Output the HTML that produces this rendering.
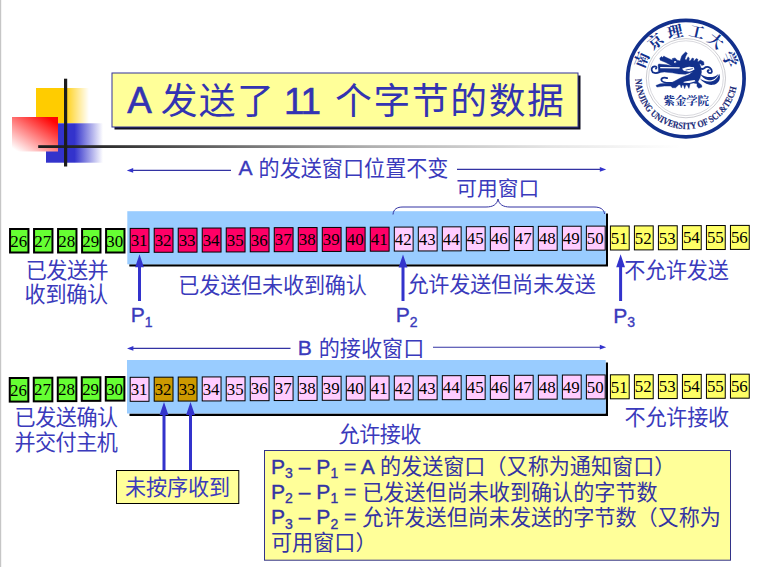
<!DOCTYPE html>
<html lang="zh"><head><meta charset="utf-8"><title>TCP sliding window</title>
<style>html,body{margin:0;padding:0;background:#fff}body{width:761px;height:567px;overflow:hidden;font-family:"Liberation Sans",sans-serif}</style>
</head><body>
<svg width="761" height="567" viewBox="0 0 761 567" style="display:block">
<defs>
<linearGradient id="gy" x1="0" x2="1" y1="0" y2="0"><stop offset="0" stop-color="#FFCC00"/><stop offset="0.52" stop-color="#FFCC00"/><stop offset="1" stop-color="#FFCC00" stop-opacity="0"/></linearGradient>
<linearGradient id="gb" x1="0" x2="1" y1="0" y2="0"><stop offset="0" stop-color="#3333CC"/><stop offset="0.5" stop-color="#3333CC"/><stop offset="1" stop-color="#3333CC" stop-opacity="0"/></linearGradient>
<linearGradient id="gr" x1="1" x2="0.12" y1="0" y2="1"><stop offset="0" stop-color="#FF0000"/><stop offset="0.12" stop-color="#FF0505"/><stop offset="1" stop-color="#FFFFFF"/></linearGradient>
<linearGradient id="gl" x1="0" x2="1" y1="0" y2="0"><stop offset="0" stop-color="#1c1c1c"/><stop offset="0.1" stop-color="#2c2c2c"/><stop offset="0.31" stop-color="#707070"/><stop offset="0.52" stop-color="#b0b0b0"/><stop offset="0.8" stop-color="#e6e6e6"/><stop offset="1" stop-color="#ffffff"/></linearGradient>
</defs>
<rect x="0" y="0" width="1" height="567" fill="#c6c6c6"/><rect x="1" y="0" width="1" height="567" fill="#f4f4f4"/>
<rect x="36" y="88" width="53" height="35.3" fill="url(#gy)"/>
<rect x="46" y="123.3" width="57" height="39.4" fill="url(#gb)"/>
<rect x="12" y="117" width="46" height="34.5" fill="url(#gr)"/>
<rect x="38.2" y="145.2" width="642" height="2.8" fill="url(#gl)"/>
<rect x="64" y="78.7" width="3.2" height="87.8" fill="#1c1c1c"/>
<rect x="114.5" y="75.5" width="466" height="54" fill="#111122"/>
<rect x="112" y="73" width="466" height="54" fill="#FFFF99" stroke="#333399" stroke-width="1"/>
<text x="127.3" y="113.4" font-family="Liberation Sans" font-size="36.8" fill="#3333B2" stroke="#3333B2" stroke-width="0.6">A</text>
<text x="160.7" y="114.2" font-family="'Liberation Sans','Noto Sans CJK SC',sans-serif" font-size="36.8" textLength="113.1" fill="#3333B2">发送了</text>
<text x="284" y="113.6" font-family="'Liberation Sans',sans-serif" font-size="36.8" textLength="37" fill="#3333B2" stroke="#3333B2" stroke-width="0.6">11</text>
<text x="335" y="114.2" font-family="'Liberation Sans','Noto Sans CJK SC',sans-serif" font-size="36.8" textLength="228.9" fill="#3333B2">个字节的数据</text>
<path d="M129.3 264.3H605.8V213.4H608V266.6H129.3Z" fill="#000"/>
<rect x="127.3" y="211.2" width="478.5" height="53.1" fill="#99CCFF"/>
<rect x="10.05" y="229" width="18.4" height="23.5" fill="#66FF33" stroke="#000" stroke-width="2"/>
<text x="18.75" y="246.5" font-family="Liberation Serif" font-size="16.9" fill="#000" text-anchor="middle">26</text>
<rect x="34.06" y="229" width="18.4" height="23.5" fill="#66FF33" stroke="#000" stroke-width="2"/>
<text x="42.76" y="246.5" font-family="Liberation Serif" font-size="16.9" fill="#000" text-anchor="middle">27</text>
<rect x="58.07" y="229" width="18.4" height="23.5" fill="#66FF33" stroke="#000" stroke-width="2"/>
<text x="66.77" y="246.5" font-family="Liberation Serif" font-size="16.9" fill="#000" text-anchor="middle">28</text>
<rect x="82.08" y="229" width="18.4" height="23.5" fill="#66FF33" stroke="#000" stroke-width="2"/>
<text x="90.78" y="246.5" font-family="Liberation Serif" font-size="16.9" fill="#000" text-anchor="middle">29</text>
<rect x="106.09" y="229" width="18.4" height="23.5" fill="#66FF33" stroke="#000" stroke-width="2"/>
<text x="114.79" y="246.5" font-family="Liberation Serif" font-size="16.9" fill="#000" text-anchor="middle">30</text>
<rect x="130.2" y="228.4" width="18.8" height="24" fill="#FF0066" stroke="#000" stroke-width="1.0"/>
<text x="139.1" y="246.15" font-family="Liberation Serif" font-size="16.9" fill="#000" text-anchor="middle">31</text>
<rect x="154.21" y="228.28" width="18.8" height="24" fill="#FF0066" stroke="#000" stroke-width="1.0"/>
<text x="163.11" y="246.03" font-family="Liberation Serif" font-size="16.9" fill="#000" text-anchor="middle">32</text>
<rect x="178.22" y="228.16" width="18.8" height="24" fill="#FF0066" stroke="#000" stroke-width="1.0"/>
<text x="187.12" y="245.91" font-family="Liberation Serif" font-size="16.9" fill="#000" text-anchor="middle">33</text>
<rect x="202.23" y="228.04" width="18.8" height="24" fill="#FF0066" stroke="#000" stroke-width="1.0"/>
<text x="211.13" y="245.79" font-family="Liberation Serif" font-size="16.9" fill="#000" text-anchor="middle">34</text>
<rect x="226.24" y="227.92" width="18.8" height="24" fill="#FF0066" stroke="#000" stroke-width="1.0"/>
<text x="235.14" y="245.67" font-family="Liberation Serif" font-size="16.9" fill="#000" text-anchor="middle">35</text>
<rect x="250.25" y="227.8" width="18.8" height="24" fill="#FF0066" stroke="#000" stroke-width="1.0"/>
<text x="259.15" y="245.55" font-family="Liberation Serif" font-size="16.9" fill="#000" text-anchor="middle">36</text>
<rect x="274.26" y="227.68" width="18.8" height="24" fill="#FF0066" stroke="#000" stroke-width="1.0"/>
<text x="283.16" y="245.43" font-family="Liberation Serif" font-size="16.9" fill="#000" text-anchor="middle">37</text>
<rect x="298.27" y="227.56" width="18.8" height="24" fill="#FF0066" stroke="#000" stroke-width="1.0"/>
<text x="307.17" y="245.31" font-family="Liberation Serif" font-size="16.9" fill="#000" text-anchor="middle">38</text>
<rect x="322.28" y="227.44" width="18.8" height="24" fill="#FF0066" stroke="#000" stroke-width="1.0"/>
<text x="331.18" y="245.19" font-family="Liberation Serif" font-size="16.9" fill="#000" text-anchor="middle">39</text>
<rect x="346.29" y="227.32" width="18.8" height="24" fill="#FF0066" stroke="#000" stroke-width="1.0"/>
<text x="355.19" y="245.07" font-family="Liberation Serif" font-size="16.9" fill="#000" text-anchor="middle">40</text>
<rect x="370.3" y="227.2" width="18.8" height="24" fill="#FF0066" stroke="#000" stroke-width="1.0"/>
<text x="379.2" y="244.95" font-family="Liberation Serif" font-size="16.9" fill="#000" text-anchor="middle">41</text>
<rect x="394.31" y="227.08" width="18.8" height="24" fill="#FFCCFF" stroke="#000" stroke-width="1.0"/>
<text x="403.21" y="244.83" font-family="Liberation Serif" font-size="16.9" fill="#000" text-anchor="middle">42</text>
<rect x="418.32" y="226.96" width="18.8" height="24" fill="#FFCCFF" stroke="#000" stroke-width="1.0"/>
<text x="427.22" y="244.71" font-family="Liberation Serif" font-size="16.9" fill="#000" text-anchor="middle">43</text>
<rect x="442.33" y="226.84" width="18.8" height="24" fill="#FFCCFF" stroke="#000" stroke-width="1.0"/>
<text x="451.23" y="244.59" font-family="Liberation Serif" font-size="16.9" fill="#000" text-anchor="middle">44</text>
<rect x="466.34" y="226.72" width="18.8" height="24" fill="#FFCCFF" stroke="#000" stroke-width="1.0"/>
<text x="475.24" y="244.47" font-family="Liberation Serif" font-size="16.9" fill="#000" text-anchor="middle">45</text>
<rect x="490.35" y="226.6" width="18.8" height="24" fill="#FFCCFF" stroke="#000" stroke-width="1.0"/>
<text x="499.25" y="244.35" font-family="Liberation Serif" font-size="16.9" fill="#000" text-anchor="middle">46</text>
<rect x="514.36" y="226.48" width="18.8" height="24" fill="#FFCCFF" stroke="#000" stroke-width="1.0"/>
<text x="523.26" y="244.23" font-family="Liberation Serif" font-size="16.9" fill="#000" text-anchor="middle">47</text>
<rect x="538.37" y="226.36" width="18.8" height="24" fill="#FFCCFF" stroke="#000" stroke-width="1.0"/>
<text x="547.27" y="244.11" font-family="Liberation Serif" font-size="16.9" fill="#000" text-anchor="middle">48</text>
<rect x="562.38" y="226.24" width="18.8" height="24" fill="#FFCCFF" stroke="#000" stroke-width="1.0"/>
<text x="571.28" y="243.99" font-family="Liberation Serif" font-size="16.9" fill="#000" text-anchor="middle">49</text>
<rect x="586.39" y="226.12" width="18.8" height="24" fill="#FFCCFF" stroke="#000" stroke-width="1.0"/>
<text x="595.29" y="243.87" font-family="Liberation Serif" font-size="16.9" fill="#000" text-anchor="middle">50</text>
<rect x="610.4" y="226" width="18.8" height="24" fill="#FFFF66" stroke="#000" stroke-width="1.0"/>
<text x="619.3" y="243.75" font-family="Liberation Serif" font-size="16.9" fill="#000" text-anchor="middle">51</text>
<rect x="634.41" y="225.88" width="18.8" height="24" fill="#FFFF66" stroke="#000" stroke-width="1.0"/>
<text x="643.31" y="243.63" font-family="Liberation Serif" font-size="16.9" fill="#000" text-anchor="middle">52</text>
<rect x="658.42" y="225.76" width="18.8" height="24" fill="#FFFF66" stroke="#000" stroke-width="1.0"/>
<text x="667.32" y="243.51" font-family="Liberation Serif" font-size="16.9" fill="#000" text-anchor="middle">53</text>
<rect x="682.43" y="225.64" width="18.8" height="24" fill="#FFFF66" stroke="#000" stroke-width="1.0"/>
<text x="691.33" y="243.39" font-family="Liberation Serif" font-size="16.9" fill="#000" text-anchor="middle">54</text>
<rect x="706.44" y="225.52" width="18.8" height="24" fill="#FFFF66" stroke="#000" stroke-width="1.0"/>
<text x="715.34" y="243.27" font-family="Liberation Serif" font-size="16.9" fill="#000" text-anchor="middle">55</text>
<rect x="730.45" y="225.4" width="18.8" height="24" fill="#FFFF66" stroke="#000" stroke-width="1.0"/>
<text x="739.35" y="243.15" font-family="Liberation Serif" font-size="16.9" fill="#000" text-anchor="middle">56</text>
<path d="M129.5 413.5H605.7V362.6H608V416H129.5Z" fill="#000"/>
<rect x="127" y="360" width="478.7" height="53.5" fill="#99CCFF"/>
<rect x="9.75" y="378" width="18.6" height="23.6" fill="#66FF33" stroke="#000" stroke-width="2"/>
<text x="18.55" y="395.55" font-family="Liberation Serif" font-size="16.9" fill="#000" text-anchor="middle">26</text>
<rect x="33.76" y="377.75" width="18.6" height="23.6" fill="#66FF33" stroke="#000" stroke-width="2"/>
<text x="42.56" y="395.3" font-family="Liberation Serif" font-size="16.9" fill="#000" text-anchor="middle">27</text>
<rect x="57.77" y="377.5" width="18.6" height="23.6" fill="#66FF33" stroke="#000" stroke-width="2"/>
<text x="66.57" y="395.05" font-family="Liberation Serif" font-size="16.9" fill="#000" text-anchor="middle">28</text>
<rect x="81.78" y="377.25" width="18.6" height="23.6" fill="#66FF33" stroke="#000" stroke-width="2"/>
<text x="90.58" y="394.8" font-family="Liberation Serif" font-size="16.9" fill="#000" text-anchor="middle">29</text>
<rect x="105.79" y="377" width="18.6" height="23.6" fill="#66FF33" stroke="#000" stroke-width="2"/>
<text x="114.59" y="394.55" font-family="Liberation Serif" font-size="16.9" fill="#000" text-anchor="middle">30</text>
<rect x="130.2" y="377.3" width="18.8" height="24" fill="#FFCCFF" stroke="#000" stroke-width="1.0"/>
<text x="139.1" y="395.05" font-family="Liberation Serif" font-size="16.9" fill="#000" text-anchor="middle">31</text>
<rect x="154.21" y="377.18" width="18.8" height="24" fill="#CC9900" stroke="#000" stroke-width="1.0"/>
<text x="163.11" y="394.93" font-family="Liberation Serif" font-size="16.9" fill="#000" text-anchor="middle">32</text>
<rect x="178.22" y="377.05" width="18.8" height="24" fill="#CC9900" stroke="#000" stroke-width="1.0"/>
<text x="187.12" y="394.8" font-family="Liberation Serif" font-size="16.9" fill="#000" text-anchor="middle">33</text>
<rect x="202.23" y="376.93" width="18.8" height="24" fill="#FFCCFF" stroke="#000" stroke-width="1.0"/>
<text x="211.13" y="394.68" font-family="Liberation Serif" font-size="16.9" fill="#000" text-anchor="middle">34</text>
<rect x="226.24" y="376.8" width="18.8" height="24" fill="#FFCCFF" stroke="#000" stroke-width="1.0"/>
<text x="235.14" y="394.55" font-family="Liberation Serif" font-size="16.9" fill="#000" text-anchor="middle">35</text>
<rect x="250.25" y="376.68" width="18.8" height="24" fill="#FFCCFF" stroke="#000" stroke-width="1.0"/>
<text x="259.15" y="394.43" font-family="Liberation Serif" font-size="16.9" fill="#000" text-anchor="middle">36</text>
<rect x="274.26" y="376.55" width="18.8" height="24" fill="#FFCCFF" stroke="#000" stroke-width="1.0"/>
<text x="283.16" y="394.3" font-family="Liberation Serif" font-size="16.9" fill="#000" text-anchor="middle">37</text>
<rect x="298.27" y="376.43" width="18.8" height="24" fill="#FFCCFF" stroke="#000" stroke-width="1.0"/>
<text x="307.17" y="394.18" font-family="Liberation Serif" font-size="16.9" fill="#000" text-anchor="middle">38</text>
<rect x="322.28" y="376.3" width="18.8" height="24" fill="#FFCCFF" stroke="#000" stroke-width="1.0"/>
<text x="331.18" y="394.05" font-family="Liberation Serif" font-size="16.9" fill="#000" text-anchor="middle">39</text>
<rect x="346.29" y="376.18" width="18.8" height="24" fill="#FFCCFF" stroke="#000" stroke-width="1.0"/>
<text x="355.19" y="393.93" font-family="Liberation Serif" font-size="16.9" fill="#000" text-anchor="middle">40</text>
<rect x="370.3" y="376.05" width="18.8" height="24" fill="#FFCCFF" stroke="#000" stroke-width="1.0"/>
<text x="379.2" y="393.8" font-family="Liberation Serif" font-size="16.9" fill="#000" text-anchor="middle">41</text>
<rect x="394.31" y="375.93" width="18.8" height="24" fill="#FFCCFF" stroke="#000" stroke-width="1.0"/>
<text x="403.21" y="393.68" font-family="Liberation Serif" font-size="16.9" fill="#000" text-anchor="middle">42</text>
<rect x="418.32" y="375.8" width="18.8" height="24" fill="#FFCCFF" stroke="#000" stroke-width="1.0"/>
<text x="427.22" y="393.55" font-family="Liberation Serif" font-size="16.9" fill="#000" text-anchor="middle">43</text>
<rect x="442.33" y="375.68" width="18.8" height="24" fill="#FFCCFF" stroke="#000" stroke-width="1.0"/>
<text x="451.23" y="393.43" font-family="Liberation Serif" font-size="16.9" fill="#000" text-anchor="middle">44</text>
<rect x="466.34" y="375.55" width="18.8" height="24" fill="#FFCCFF" stroke="#000" stroke-width="1.0"/>
<text x="475.24" y="393.3" font-family="Liberation Serif" font-size="16.9" fill="#000" text-anchor="middle">45</text>
<rect x="490.35" y="375.43" width="18.8" height="24" fill="#FFCCFF" stroke="#000" stroke-width="1.0"/>
<text x="499.25" y="393.18" font-family="Liberation Serif" font-size="16.9" fill="#000" text-anchor="middle">46</text>
<rect x="514.36" y="375.3" width="18.8" height="24" fill="#FFCCFF" stroke="#000" stroke-width="1.0"/>
<text x="523.26" y="393.05" font-family="Liberation Serif" font-size="16.9" fill="#000" text-anchor="middle">47</text>
<rect x="538.37" y="375.18" width="18.8" height="24" fill="#FFCCFF" stroke="#000" stroke-width="1.0"/>
<text x="547.27" y="392.93" font-family="Liberation Serif" font-size="16.9" fill="#000" text-anchor="middle">48</text>
<rect x="562.38" y="375.05" width="18.8" height="24" fill="#FFCCFF" stroke="#000" stroke-width="1.0"/>
<text x="571.28" y="392.8" font-family="Liberation Serif" font-size="16.9" fill="#000" text-anchor="middle">49</text>
<rect x="586.39" y="374.93" width="18.8" height="24" fill="#FFCCFF" stroke="#000" stroke-width="1.0"/>
<text x="595.29" y="392.68" font-family="Liberation Serif" font-size="16.9" fill="#000" text-anchor="middle">50</text>
<rect x="610.4" y="374.8" width="18.8" height="24" fill="#FFFF66" stroke="#000" stroke-width="1.0"/>
<text x="619.3" y="392.55" font-family="Liberation Serif" font-size="16.9" fill="#000" text-anchor="middle">51</text>
<rect x="634.41" y="374.68" width="18.8" height="24" fill="#FFFF66" stroke="#000" stroke-width="1.0"/>
<text x="643.31" y="392.43" font-family="Liberation Serif" font-size="16.9" fill="#000" text-anchor="middle">52</text>
<rect x="658.42" y="374.55" width="18.8" height="24" fill="#FFFF66" stroke="#000" stroke-width="1.0"/>
<text x="667.32" y="392.3" font-family="Liberation Serif" font-size="16.9" fill="#000" text-anchor="middle">53</text>
<rect x="682.43" y="374.43" width="18.8" height="24" fill="#FFFF66" stroke="#000" stroke-width="1.0"/>
<text x="691.33" y="392.18" font-family="Liberation Serif" font-size="16.9" fill="#000" text-anchor="middle">54</text>
<rect x="706.44" y="374.3" width="18.8" height="24" fill="#FFFF66" stroke="#000" stroke-width="1.0"/>
<text x="715.34" y="392.05" font-family="Liberation Serif" font-size="16.9" fill="#000" text-anchor="middle">55</text>
<rect x="730.45" y="374.18" width="18.8" height="24" fill="#FFFF66" stroke="#000" stroke-width="1.0"/>
<text x="739.35" y="391.93" font-family="Liberation Serif" font-size="16.9" fill="#000" text-anchor="middle">56</text>
<line x1="130.8" y1="170.4" x2="231" y2="170.4" stroke="#3333A3" stroke-width="1.1"/>
<path d="M126.8 170.4l6.4 -2.4v4.8z" fill="#3333CC"/>
<line x1="457" y1="169.4" x2="602.2" y2="169.4" stroke="#3333A3" stroke-width="1.1"/>
<path d="M606.2 169.4l-6.4 -2.4v4.8z" fill="#3333CC"/>
<line x1="131" y1="348.4" x2="290.5" y2="348.4" stroke="#3333A3" stroke-width="1.1"/>
<path d="M127 348.4l6.4 -2.4v4.8z" fill="#3333CC"/>
<line x1="433" y1="347.2" x2="602.2" y2="347.2" stroke="#3333A3" stroke-width="1.1"/>
<path d="M606.2 347.2l-6.4 -2.4v4.8z" fill="#3333CC"/>
<text x="238.6" y="175.4" font-family="Liberation Sans" font-size="21.1" fill="#3A3ABC" stroke="#3A3ABC" stroke-width="0.35">A</text>
<text x="258.54" y="175.6" font-family="'Liberation Sans','Noto Sans CJK SC',sans-serif" font-size="21.1" textLength="189.9" fill="#3A3ABC">的发送窗口位置不变</text>
<text x="456.3" y="196" font-family="'Liberation Sans','Noto Sans CJK SC',sans-serif" font-size="20.7" textLength="82.8" fill="#3A3ABC">可用窗口</text>
<path d="M393 214.5C393.5 209 397 207 403 207H486C493 207 497 204.5 498 199C499 204.5 503 207 510 207H594C600 207 604 209 604.6 214" fill="none" stroke="#3333A3" stroke-width="1"/>
<text x="297.8" y="354.8" font-family="Liberation Sans" font-size="21.1" fill="#3A3ABC" stroke="#3A3ABC" stroke-width="0.35">B</text>
<text x="318.74" y="356.4" font-family="'Liberation Sans','Noto Sans CJK SC',sans-serif" font-size="21.1" textLength="105.5" fill="#3A3ABC">的接收窗口</text>
<path d="M139.5 254.3L143.9 267.3H141V301H138V267.3H135.1Z" fill="#3333CC"/>
<path d="M403 254.5L407.4 267.5H404.5V301H401.5V267.5H398.6Z" fill="#3333CC"/>
<path d="M620.6 254.2L625 267.2H622.1V301H619.1V267.2H616.2Z" fill="#3333CC"/>
<path d="M164 402L168.4 415H165.5V471H162.5V415H159.6Z" fill="#3333CC"/>
<path d="M190.5 402L194.9 415H192V471H189V415H186.1Z" fill="#3333CC"/>
<text x="130.7" y="322.4" font-family="Liberation Sans" font-size="21.1" fill="#3A3ABC" stroke="#3A3ABC" stroke-width="0.35">P</text>
<text x="144.77" y="327" font-family="Liberation Sans" font-size="14" fill="#3A3ABC" stroke="#3A3ABC" stroke-width="0.35">1</text>
<text x="395.8" y="322.2" font-family="Liberation Sans" font-size="21.1" fill="#3A3ABC" stroke="#3A3ABC" stroke-width="0.35">P</text>
<text x="409.87" y="326.8" font-family="Liberation Sans" font-size="14" fill="#3A3ABC" stroke="#3A3ABC" stroke-width="0.35">2</text>
<text x="613.2" y="322.6" font-family="Liberation Sans" font-size="21.1" fill="#3A3ABC" stroke="#3A3ABC" stroke-width="0.35">P</text>
<text x="627.27" y="327.2" font-family="Liberation Sans" font-size="14" fill="#3A3ABC" stroke="#3A3ABC" stroke-width="0.35">3</text>
<text x="25.8" y="278" font-family="'Liberation Sans','Noto Sans CJK SC',sans-serif" font-size="21.1" textLength="82.8" fill="#3A3ABC">已发送并</text>
<text x="24.6" y="302.3" font-family="'Liberation Sans','Noto Sans CJK SC',sans-serif" font-size="21.1" textLength="83.6" fill="#3A3ABC">收到确认</text>
<text x="178.3" y="293.2" font-family="'Liberation Sans','Noto Sans CJK SC',sans-serif" font-size="21.1" textLength="188.55" fill="#3A3ABC">已发送但未收到确认</text>
<text x="407.4" y="291.7" font-family="'Liberation Sans','Noto Sans CJK SC',sans-serif" font-size="21.1" textLength="188.55" fill="#3A3ABC">允许发送但尚未发送</text>
<text x="624.3" y="277.9" font-family="'Liberation Sans','Noto Sans CJK SC',sans-serif" font-size="21.1" textLength="104.5" fill="#3A3ABC">不允许发送</text>
<text x="14.6" y="424.9" font-family="'Liberation Sans','Noto Sans CJK SC',sans-serif" font-size="21.1" textLength="103.5" fill="#3A3ABC">已发送确认</text>
<text x="14.4" y="449.6" font-family="'Liberation Sans','Noto Sans CJK SC',sans-serif" font-size="21.1" textLength="103.5" fill="#3A3ABC">并交付主机</text>
<text x="338.6" y="442" font-family="'Liberation Sans','Noto Sans CJK SC',sans-serif" font-size="21.1" textLength="82.8" fill="#3A3ABC">允许接收</text>
<text x="624.6" y="424.9" font-family="'Liberation Sans','Noto Sans CJK SC',sans-serif" font-size="21.1" textLength="104.5" fill="#3A3ABC">不允许接收</text>
<rect x="116.5" y="470.5" width="122.3" height="33" fill="#FFFF99" stroke="#000" stroke-width="1"/>
<text x="125" y="495.2" font-family="'Liberation Sans','Noto Sans CJK SC',sans-serif" font-size="21.1" textLength="105" fill="#3A3ABC">未按序收到</text>
<rect x="264.5" y="450.5" width="466" height="109.7" fill="#FFFF99" stroke="#333388" stroke-width="1"/>
<text x="271" y="473.6" font-family="Liberation Sans" font-size="21.1" fill="#3333A3" stroke="#3333A3" stroke-width="0.35">P</text>
<text x="285.07" y="478.2" font-family="Liberation Sans" font-size="14" fill="#3333A3" stroke="#3333A3" stroke-width="0.35">3</text>
<text x="298.72" y="473.6" font-family="Liberation Sans" font-size="21.1" fill="#3333A3" stroke="#3333A3" stroke-width="0.35">–</text>
<text x="316.32" y="473.6" font-family="Liberation Sans" font-size="21.1" fill="#3333A3" stroke="#3333A3" stroke-width="0.35">P</text>
<text x="330.39" y="478.2" font-family="Liberation Sans" font-size="14" fill="#3333A3" stroke="#3333A3" stroke-width="0.35">1</text>
<text x="344.04" y="473.6" font-family="Liberation Sans" font-size="21.1" fill="#3333A3" stroke="#3333A3" stroke-width="0.35">=</text>
<text x="360.63" y="473.6" font-family="Liberation Sans" font-size="21.1" fill="#3333A3" stroke="#3333A3" stroke-width="0.35">A</text>
<text x="379.96" y="474.4" font-family="'Liberation Sans','Noto Sans CJK SC',sans-serif" font-size="21.1" textLength="295.4" fill="#3333A3">的发送窗口（又称为通知窗口）</text>
<text x="271" y="498.8" font-family="Liberation Sans" font-size="21.1" fill="#3333A3" stroke="#3333A3" stroke-width="0.35">P</text>
<text x="285.07" y="503.4" font-family="Liberation Sans" font-size="14" fill="#3333A3" stroke="#3333A3" stroke-width="0.35">2</text>
<text x="298.72" y="498.8" font-family="Liberation Sans" font-size="21.1" fill="#3333A3" stroke="#3333A3" stroke-width="0.35">–</text>
<text x="316.32" y="498.8" font-family="Liberation Sans" font-size="21.1" fill="#3333A3" stroke="#3333A3" stroke-width="0.35">P</text>
<text x="330.39" y="503.4" font-family="Liberation Sans" font-size="14" fill="#3333A3" stroke="#3333A3" stroke-width="0.35">1</text>
<text x="344.04" y="498.8" font-family="Liberation Sans" font-size="21.1" fill="#3333A3" stroke="#3333A3" stroke-width="0.35">=</text>
<text x="362.23" y="499.6" font-family="'Liberation Sans','Noto Sans CJK SC',sans-serif" font-size="21.1" textLength="295.4" fill="#3333A3">已发送但尚未收到确认的字节数</text>
<text x="271" y="524" font-family="Liberation Sans" font-size="21.1" fill="#3333A3" stroke="#3333A3" stroke-width="0.35">P</text>
<text x="285.07" y="528.6" font-family="Liberation Sans" font-size="14" fill="#3333A3" stroke="#3333A3" stroke-width="0.35">3</text>
<text x="298.72" y="524" font-family="Liberation Sans" font-size="21.1" fill="#3333A3" stroke="#3333A3" stroke-width="0.35">–</text>
<text x="316.32" y="524" font-family="Liberation Sans" font-size="21.1" fill="#3333A3" stroke="#3333A3" stroke-width="0.35">P</text>
<text x="330.39" y="528.6" font-family="Liberation Sans" font-size="14" fill="#3333A3" stroke="#3333A3" stroke-width="0.35">2</text>
<text x="344.04" y="524" font-family="Liberation Sans" font-size="21.1" fill="#3333A3" stroke="#3333A3" stroke-width="0.35">=</text>
<text x="362.23" y="524.8" font-family="'Liberation Sans','Noto Sans CJK SC',sans-serif" font-size="21.1" textLength="358.7" fill="#3333A3">允许发送但尚未发送的字节数（又称为</text>
<text x="271" y="550.2" font-family="'Liberation Sans','Noto Sans CJK SC',sans-serif" font-size="21.1" textLength="105.5" fill="#3333A3">可用窗口）</text>
<circle cx="685.9" cy="78.6" r="58.2" fill="#fff" stroke="#12308C" stroke-width="3.7"/>
<circle cx="685.9" cy="78.2" r="39.6" fill="none" stroke="#b4b4bc" stroke-width="0.7"/>
<circle cx="685.9" cy="78.2" r="37.4" fill="none" stroke="#c0c0c8" stroke-width="0.6"/>
<g transform="translate(648 48) scale(0.0811)" fill="#12308C" stroke="#12308C" stroke-width="5" stroke-linejoin="round">
<path d="M145 125L165 105L180 118L195 98L215 112L300 150L300 130L335 122L360 150L395 160L415 100L440 70L465 48L485 65L465 105L455 135L470 150L495 108L510 125L505 160L525 155L545 123L566 132L560 160L574 155L594 130L616 138L612 165L624 165L646 148L686 170L692 205L662 216L652 196L636 193L655 250L660 300L640 370L615 420L660 455L665 482L625 497L603 472L605 440L560 432L520 440L505 498L482 456L466 458L452 502L438 458L424 456L410 492L398 452L380 452L340 490L300 490L280 470L200 470L110 482L98 462L150 442L280 432L330 408L410 364L508 328L553 292L527 301L462 324L377 320L300 306L200 296L150 302L130 290L124 206L134 197L230 208L292 218L220 180L150 150Z"/>
</g>
<g transform="translate(648 48) scale(0.0811)" fill="#fff" stroke="none">
<path d="M150 234L392 238L388 254L150 250Z"/>
<path d="M419 256Q460 236 508 232L566 238L573 266Q540 290 508 294L442 282Z"/>
<path d="M436 419Q470 408 508 405L573 396L586 411Q540 428 508 431L442 429Z"/>
<circle cx="335" cy="174" r="14"/>
</g>
<g transform="translate(648 48) scale(0.0811)" fill="#12308C" stroke="none">
<circle cx="337" cy="176" r="6"/>
<path d="M462 268L552 250L554 258L466 276Z"/>
<path d="M644 316C700 360 800 382 868 320C852 374 790 408 738 394C700 384 660 355 644 316Z"/>
<path d="M634 370C700 425 830 448 878 316C904 380 872 442 800 454C740 464 670 420 634 370Z"/>
</g>
<g transform="translate(648 48) scale(0.0811)" fill="none" stroke="#12308C" stroke-width="22" stroke-linecap="round" stroke-linejoin="round">
<path d="M142 298C100 318 52 312 45 272C40 240 70 220 96 228C108 234 106 250 98 254"/>
<path d="M292 430C250 432 175 432 165 396C160 370 200 356 236 372"/>
<path d="M655 256C690 268 696 244 712 236C745 222 788 250 788 292C786 316 748 318 736 292C732 280 740 270 750 272"/>
</g>
<g font-family="'Liberation Serif','Noto Serif CJK SC',serif" font-weight="bold" font-size="15.5" fill="#12308C" text-anchor="middle">
<text x="0" y="5.9" transform="translate(641.35 59.69) rotate(-67)">南</text>
<text x="0" y="5.9" transform="translate(655.11 41.25) rotate(-39.5)">京</text>
<text x="0" y="5.9" transform="translate(675.01 31.44) rotate(-13)">理</text>
<text x="0" y="5.9" transform="translate(696.79 31.44) rotate(13)">工</text>
<text x="0" y="5.9" transform="translate(716.03 40.72) rotate(38.5)">大</text>
<text x="0" y="5.9" transform="translate(730.29 59.3) rotate(66.5)">学</text>
</g>
<text x="663.6" y="105.4" font-family="'Liberation Serif','Noto Serif CJK SC',serif" font-weight="bold" font-size="11.5" textLength="45.4" fill="#12308C">紫金学院</text>
<path id="arcb" d="M635.21 79.09A51.0 51.0 0 0 0 736.57 86.18" fill="none"/>
<text font-family="Liberation Serif" font-weight="bold" font-size="9.6" fill="#1a2a78" stroke="#1a2a78" stroke-width="0.15" textLength="149.81" lengthAdjust="spacingAndGlyphs"><textPath href="#arcb" textLength="149.81" lengthAdjust="spacingAndGlyphs">NANJING UNIVERSITY OF SCI.&amp;TECH</textPath></text>
</svg>
</body></html>
